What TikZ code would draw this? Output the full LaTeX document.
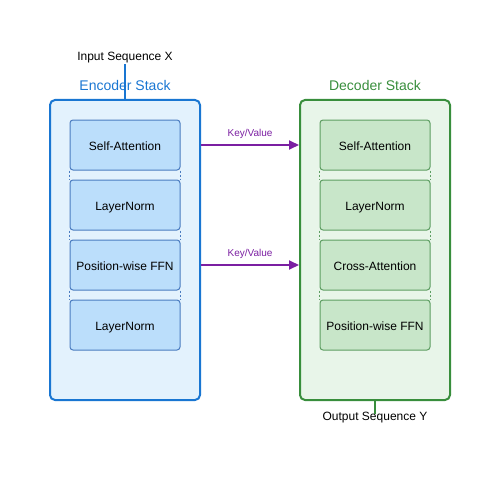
\documentclass[tikz,border=0pt]{standalone}
\usepackage{fontspec}
\setmainfont{Liberation Sans}
\usetikzlibrary{arrows.meta}
\definecolor{encazul}{HTML}{1976D2}
\definecolor{encfondo}{HTML}{E3F2FD}
\definecolor{encbloque}{HTML}{BBDEFB}
\definecolor{encborde}{HTML}{4A7CC0}
\definecolor{decverde}{HTML}{388E3C}
\definecolor{decfondo}{HTML}{E8F5E9}
\definecolor{decbloque}{HTML}{C8E6C9}
\definecolor{decborde}{HTML}{5E9E62}
\definecolor{morado}{HTML}{7B1FA2}
\begin{document}
\begin{tikzpicture}[x=1pt,y=-1pt,
        pila/.style={draw,line width=2pt,rounded corners=5pt,minimum width=150pt,minimum height=300pt,inner sep=0pt},
        capa/.style={draw,line width=1pt,rounded corners=3pt,minimum width=110pt,minimum height=50pt,inner sep=0pt,text height=11.5pt,text depth=0pt,font=\fontsize{12}{14}\selectfont},
        titulo/.style={text height=10pt,text depth=0pt,font=\fontsize{14}{16}\selectfont},
        texto/.style={text height=11.5pt,text depth=0pt,font=\fontsize{12}{14}\selectfont},
        punteado/.style={line width=1.5pt,dash pattern=on 2pt off 2pt},
        flecha/.style={morado,line width=2pt,-{Triangle[length=10pt,width=9pt]}},
        etiqueta/.style={morado,text height=7.2pt,text depth=0pt,font=\fontsize{10}{12}\selectfont}]
        \useasboundingbox (0,0) rectangle (500,500);
        % Pila del codificador
        \node[pila,draw=encazul,fill=encfondo] (enc) at (125,250) {};
        \node[titulo,text=encazul] (enctit) at (125,86) {Encoder Stack};
        \node[capa,draw=encborde,fill=encbloque] (esa) at (125,145) {Self-Attention};
        \node[capa,draw=encborde,fill=encbloque] (eln1) at (125,205) {LayerNorm};
        \node[capa,draw=encborde,fill=encbloque] (effn) at (125,265) {Position-wise FFN};
        \node[capa,draw=encborde,fill=encbloque] (eln2) at (125,325) {LayerNorm};
        \foreach \a/\b in {esa/eln1,eln1/effn,effn/eln2} {
            \draw[punteado,encborde] (\a.south west) -- (\b.north west);
            \draw[punteado,encborde] (\a.south east) -- (\b.north east);
        }
        % Pila del decodificador
        \node[pila,draw=decverde,fill=decfondo] (dec) at (375,250) {};
        \node[titulo,text=decverde] (dectit) at (375,86) {Decoder Stack};
        \node[capa,draw=decborde,fill=decbloque] (dsa) at (375,145) {Self-Attention};
        \node[capa,draw=decborde,fill=decbloque] (dln) at (375,205) {LayerNorm};
        \node[capa,draw=decborde,fill=decbloque] (dca) at (375,265) {Cross-Attention};
        \node[capa,draw=decborde,fill=decbloque] (dffn) at (375,325) {Position-wise FFN};
        \foreach \a/\b in {dsa/dln,dln/dca,dca/dffn} {
            \draw[punteado,decborde] (\a.south west) -- (\b.north west);
            \draw[punteado,decborde] (\a.south east) -- (\b.north east);
        }
        % Entrada y salida
        \node[texto] (entrada) at (125,55) {Input Sequence X};
        \draw[encazul,line width=2pt] (entrada.south) -- (enc.north);
        \node[texto] (salida) at (375,415) {Output Sequence Y};
        \draw[decverde,line width=2pt,shorten >=-8pt] (dec.south) -- (salida.north);
        % Flechas Key/Value
        \draw[flecha] (enc.east |- esa) -- (dec.west |- dsa) node[etiqueta,midway,above=4.5pt] {Key/Value};
        \draw[flecha] (enc.east |- effn) -- (dec.west |- dca) node[etiqueta,midway,above=4.5pt] {Key/Value};
    \end{tikzpicture}
\end{document}
